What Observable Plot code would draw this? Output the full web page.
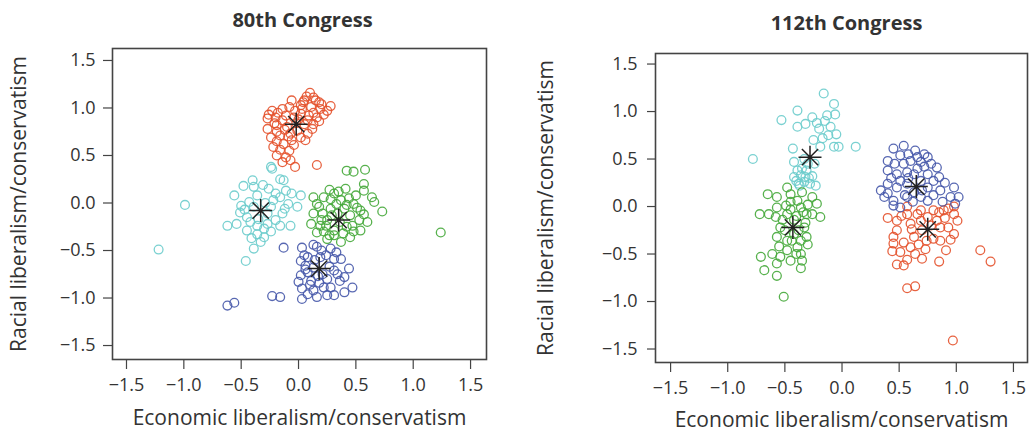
<!DOCTYPE html>
<html>
<head>
<meta charset="utf-8">
<script src="https://cdn.jsdelivr.net/npm/d3@7"></script>
<script src="https://cdn.jsdelivr.net/npm/@observablehq/plot@0.6"></script>
<style>
  html, body { margin: 0; padding: 0; background: #fff; }
  #chart { position: relative; width: 1033px; height: 438px; }
  #chart svg { position: absolute; top: 0; }
</style>
</head>
<body>
<div id="chart"></div>
<script>
// Panel titles and axis titles
const panelTitles = ["80th Congress", "112th Congress"];
const xTitle = "Economic liberalism/conservatism";
const yTitle = "Racial liberalism/conservatism";
const tickValues = [-1.5, -1.0, -0.5, 0.0, 0.5, 1.0, 1.5];

// Cluster colours
const clusterColors = { red: "#e4512b", cyan: "#6ccccc", green: "#45a93a", blue: "#4658aa" };

// 80th Congress: legislator positions [economic, racial] by cluster
const red80 = [[0.10,1.16],[0.13,1.11],[0.18,1.06],[0.28,1.02],[0.05,1.08],[-0.06,1.08],[-0.23,0.97],[-0.14,0.99],[-0.08,1.01],[0.02,1.03],[0.11,1.01],[0.19,0.99],[0.25,0.97],[-0.27,0.89],[-0.20,0.90],[-0.11,0.92],[0.02,0.94],[0.09,0.92],[0.16,0.90],[-0.27,0.78],[-0.19,0.82],[-0.10,0.80],[0.05,0.83],[0.13,0.83],[-0.24,0.69],[-0.16,0.71],[-0.07,0.73],[0.02,0.69],[0.06,0.66],[-0.22,0.59],[-0.13,0.62],[-0.04,0.61],[-0.19,0.50],[-0.11,0.48],[-0.07,0.45],[-0.14,0.43],[-0.03,0.38],[0.16,0.40],[-0.04,0.90],[0.08,0.87],[-0.01,0.76],[-0.14,0.87],[-0.06,0.66],[0.13,0.95],[-0.08,0.55],[0.03,0.99],[-0.19,0.75],[0.20,1.04],[0.07,1.12],[-0.02,0.84],[-0.18,0.95],[0.00,0.88],[0.12,0.78],[-0.21,0.84],[0.22,0.93],[-0.09,0.70],[-0.16,0.56],[0.04,1.06],[0.15,1.08],[-0.12,0.77],[0.08,0.73],[-0.26,0.93],[-0.03,0.97],[0.18,0.86],[-0.19,0.65]];
const cyan80 = [[-0.24,0.38],[-0.23,0.36],[-0.16,0.25],[-0.13,0.24],[-0.40,0.24],[-0.48,0.18],[-0.39,0.17],[-0.26,0.15],[-0.11,0.13],[-0.06,0.10],[0.02,0.08],[-0.56,0.08],[-0.36,0.08],[-0.16,0.06],[-0.43,0.01],[-0.01,-0.04],[-0.24,-0.04],[-0.51,-0.10],[-0.14,-0.11],[-0.45,-0.15],[-0.62,-0.24],[-0.54,-0.22],[-0.36,-0.24],[-0.27,-0.22],[-0.16,-0.24],[-0.07,-0.24],[-0.45,-0.29],[-0.36,-0.33],[-0.30,-0.36],[-0.33,-0.41],[-0.39,-0.48],[-0.46,-0.61],[-0.99,-0.02],[-1.22,-0.49],[-0.39,-0.04],[-0.27,-0.11],[-0.22,0.03],[-0.42,-0.20],[-0.30,-0.27],[-0.20,-0.18],[-0.09,-0.01],[-0.50,-0.03],[-0.31,0.19],[-0.20,0.10],[-0.29,0.00],[-0.47,-0.07],[-0.35,-0.17],[-0.24,-0.30],[-0.41,-0.37],[-0.12,-0.06]];
const green80 = [[0.42,0.34],[0.48,0.33],[0.58,0.35],[0.57,0.20],[0.57,0.13],[0.64,0.06],[0.66,0.01],[0.73,-0.09],[0.41,0.15],[0.31,0.10],[0.22,0.06],[0.16,-0.01],[0.13,-0.11],[0.11,-0.22],[0.16,-0.31],[0.25,-0.38],[0.37,-0.41],[0.45,-0.36],[0.54,-0.29],[0.60,-0.20],[0.54,-0.08],[0.48,-0.01],[0.37,0.03],[0.28,-0.06],[0.25,-0.18],[0.31,-0.29],[0.42,-0.25],[0.45,-0.13],[0.21,-0.11],[0.19,-0.24],[0.40,-0.06],[1.24,-0.31],[0.34,-0.11],[0.53,-0.18],[0.31,-0.34],[0.13,0.06],[0.28,0.04],[0.50,0.08],[0.36,-0.20],[0.22,-0.30],[0.27,0.14],[0.33,-0.01],[0.44,0.05],[0.51,-0.05],[0.39,-0.32],[0.47,-0.24],[0.24,-0.24],[0.29,-0.13],[0.18,-0.04],[0.57,-0.12],[0.35,0.12],[0.20,-0.18],[0.42,-0.02],[0.27,-0.34],[0.48,-0.30]];
const blue80 = [[0.03,-0.47],[-0.13,-0.47],[0.13,-0.44],[0.28,-0.48],[0.02,-0.61],[0.08,-0.57],[0.37,-0.59],[0.44,-0.69],[0.31,-0.71],[0.02,-0.76],[0.11,-0.82],[0.25,-0.80],[0.34,-0.75],[0.03,-0.90],[0.13,-0.92],[0.22,-0.89],[0.31,-0.97],[0.40,-0.94],[0.47,-0.89],[0.03,-1.01],[0.16,-0.99],[0.25,-0.97],[-0.23,-0.98],[-0.16,-0.99],[-0.62,-1.08],[-0.56,-1.05],[0.08,-0.73],[0.19,-0.57],[0.28,-0.89],[0.08,-0.96],[0.21,-0.75],[0.13,-0.68],[0.31,-0.59],[0.06,-0.66],[0.20,-0.50],[0.10,-0.86],[0.16,-0.46],[0.24,-0.55],[0.05,-0.55],[0.14,-0.60],[0.36,-0.82],[0.00,-0.83],[0.18,-0.84],[0.27,-0.67],[0.40,-0.78],[0.06,-0.70],[0.33,-0.52],[0.17,-0.77]];
const centers80 = [[-0.02,0.83],[-0.33,-0.08],[0.35,-0.18],[0.18,-0.69]];

// 112th Congress: legislator positions [economic, racial] by cluster
const cyan112 = [[-0.16,1.19],[-0.07,1.08],[-0.06,0.97],[-0.39,1.01],[-0.53,0.91],[-0.39,0.84],[-0.32,0.87],[-0.26,0.94],[-0.22,0.88],[-0.13,0.96],[-0.10,0.84],[-0.17,0.72],[-0.12,0.75],[-0.07,0.63],[-0.03,0.63],[0.12,0.63],[-0.43,0.61],[-0.78,0.50],[-0.42,0.47],[-0.39,0.38],[-0.35,0.40],[-0.42,0.31],[-0.32,0.31],[-0.38,0.24],[-0.28,0.24],[-0.23,0.22],[-0.19,0.63],[-0.25,0.70],[-0.31,0.38],[-0.33,0.50],[-0.36,0.33],[-0.29,0.30],[-0.40,0.27],[-0.26,0.32],[-0.33,0.26],[-0.24,0.45],[-0.30,0.45],[-0.20,0.82],[-0.15,0.90],[-0.05,0.76],[-0.37,0.22]];
const green112 = [[-0.48,0.20],[-0.65,0.13],[-0.57,0.10],[-0.45,0.13],[-0.35,0.15],[-0.26,0.10],[-0.22,0.03],[-0.19,-0.11],[-0.72,-0.08],[-0.64,-0.08],[-0.57,-0.01],[-0.58,-0.11],[-0.48,-0.08],[-0.36,-0.01],[-0.31,-0.08],[-0.54,-0.22],[-0.33,-0.22],[-0.57,-0.32],[-0.48,-0.36],[-0.36,-0.36],[-0.61,-0.50],[-0.71,-0.53],[-0.54,-0.53],[-0.45,-0.57],[-0.35,-0.57],[-0.57,-0.60],[-0.68,-0.67],[-0.57,-0.73],[-0.51,-0.95],[-0.39,-0.43],[-0.31,-0.32],[-0.42,-0.29],[-0.26,-0.08],[-0.49,0.01],[-0.39,0.06],[-0.32,-0.17],[-0.48,-0.46],[-0.36,-0.50],[-0.42,-0.14],[-0.30,0.02],[-0.40,-0.10],[-0.45,-0.03],[-0.38,-0.25],[-0.44,-0.36],[-0.50,-0.25],[-0.34,-0.06],[-0.52,-0.14],[-0.40,-0.50],[-0.30,-0.40],[-0.45,0.05],[-0.55,-0.42],[-0.36,-0.65]];
const blue112 = [[0.54,0.64],[0.45,0.61],[0.64,0.59],[0.72,0.55],[0.75,0.52],[0.40,0.48],[0.51,0.54],[0.60,0.48],[0.69,0.47],[0.83,0.41],[0.40,0.38],[0.48,0.34],[0.57,0.36],[0.75,0.34],[0.85,0.31],[0.40,0.24],[0.48,0.20],[0.57,0.24],[0.75,0.20],[0.86,0.17],[0.98,0.20],[1.02,0.10],[0.95,0.10],[0.37,0.10],[0.45,0.06],[0.57,0.10],[0.69,0.10],[0.80,0.12],[0.51,-0.01],[0.34,0.17],[0.99,0.03],[0.45,0.01],[0.63,0.34],[0.69,0.27],[0.51,0.27],[0.63,0.15],[0.75,0.06],[0.80,0.27],[0.54,0.45],[0.58,0.55],[0.66,0.40],[0.72,0.42],[0.46,0.45],[0.55,0.12],[0.62,0.05],[0.70,0.17],[0.88,0.05],[0.43,0.30],[0.90,0.25],[0.78,0.45],[0.58,0.30],[0.66,0.52],[0.40,0.14]];
const red112 = [[0.40,-0.12],[0.48,-0.15],[0.57,-0.08],[0.69,-0.04],[0.80,-0.04],[0.89,-0.04],[0.98,-0.08],[1.01,-0.15],[0.93,-0.22],[0.86,-0.22],[0.69,-0.15],[0.60,-0.18],[0.48,-0.25],[0.45,-0.32],[0.45,-0.39],[0.44,-0.47],[0.54,-0.38],[0.60,-0.43],[0.64,-0.50],[0.57,-0.56],[0.48,-0.61],[0.54,-0.62],[0.73,-0.45],[0.85,-0.58],[0.91,-0.46],[0.86,-0.36],[0.98,-0.29],[0.80,-0.34],[1.21,-0.46],[1.30,-0.58],[0.57,-0.86],[0.64,-0.84],[0.97,-1.41],[0.75,-0.11],[0.63,-0.32],[0.83,-0.15],[0.98,0.00],[0.57,0.00],[0.70,-0.25],[0.66,-0.08],[0.78,-0.20],[0.90,-0.12],[0.52,-0.10],[0.95,-0.35],[0.74,-0.36],[0.67,-0.40],[0.51,-0.48],[0.93,-0.02],[0.61,-0.24],[0.85,-0.06],[0.70,-0.55]];
const centers112 = [[-0.28,0.52],[-0.43,-0.22],[0.65,0.21],[0.75,-0.24]];

// Eight-spoke asterisk used for the cluster centres
const asterisk8 = {
  draw(context, size) {
    const r = Math.sqrt(size / Math.PI);
    for (let k = 0; k < 4; ++k) {
      const a = (k * Math.PI) / 4;
      const dx = r * Math.cos(a), dy = r * Math.sin(a);
      context.moveTo(-dx, -dy);
      context.lineTo(dx, dy);
    }
  }
};

const fmt = d3.format(".1f");

function panel({title, clusters, centers, width, margins, xDomain, yDomain, yTickSize, yTickPadding, titleDx, titleDy, yTitleDx, xTitleDy}) {
  return Plot.plot({
    width,
    height: 438,
    ...margins,
    x: {domain: xDomain},
    y: {domain: yDomain},
    style: {fontFamily: "'Open Sans', sans-serif", color: "#333", background: "transparent", overflow: "visible"},
    marks: [
      Plot.axisX(tickValues, {tickSize: 10, tickPadding: 9, tickFormat: fmt, fontSize: 18, stroke: "#444", strokeWidth: 1.2, label: null}),
      Plot.axisY(tickValues, {tickSize: yTickSize, tickPadding: yTickPadding, tickFormat: fmt, fontSize: 18, stroke: "#444", strokeWidth: 1.2, label: null}),
      ...clusters.map(([pts, color]) =>
        Plot.dot(pts, {x: d => d[0], y: d => d[1], r: 4.4, stroke: color, strokeWidth: 1.3, fill: "none", strokeOpacity: 0.9})
      ),
      Plot.dot(centers, {x: d => d[0], y: d => d[1], symbol: asterisk8, r: 11.5, stroke: "#222", strokeWidth: 1.5, fill: "none"}),
      Plot.frame({stroke: "#444", strokeWidth: 1.6}),
      Plot.text([title], {frameAnchor: "top", dx: titleDx, dy: titleDy, fontSize: 20, fontWeight: "bold", fill: "#333"}),
      Plot.text([xTitle], {frameAnchor: "bottom", dy: xTitleDy, fontSize: 21, fill: "#333"}),
      Plot.text([yTitle], {frameAnchor: "left", textAnchor: "middle", dx: yTitleDx, rotate: -90, fontSize: 21, fill: "#333"})
    ]
  });
}

const left = panel({
  title: panelTitles[0],
  clusters: [[cyan80, clusterColors.cyan], [red80, clusterColors.red], [green80, clusterColors.green], [blue80, clusterColors.blue]],
  centers: centers80,
  width: 520,
  margins: {marginTop: 48, marginBottom: 79, marginLeft: 112, marginRight: 34},
  xDomain: [-1.622, 1.639],
  yDomain: [-1.647, 1.626],
  yTickSize: 9, yTickPadding: 8,
  titleDx: 3, titleDy: -36, yTitleDx: -93, xTitleDy: 65
});
left.style.left = "0px";

const right = panel({
  title: panelTitles[1],
  clusters: [[cyan112, clusterColors.cyan], [green112, clusterColors.green], [red112, clusterColors.red], [blue112, clusterColors.blue]],
  centers: centers112,
  width: 513,
  margins: {marginTop: 53, marginBottom: 76, marginLeft: 135, marginRight: 6},
  xDomain: [-1.632, 1.623],
  yDomain: [-1.642, 1.611],
  yTickSize: 8, yTickPadding: 10,
  titleDx: 5, titleDy: -38, yTitleDx: -109, xTitleDy: 64
});
right.style.left = "520px";

const chart = document.getElementById("chart");
chart.append(left, right);
</script>
</body>
</html>
